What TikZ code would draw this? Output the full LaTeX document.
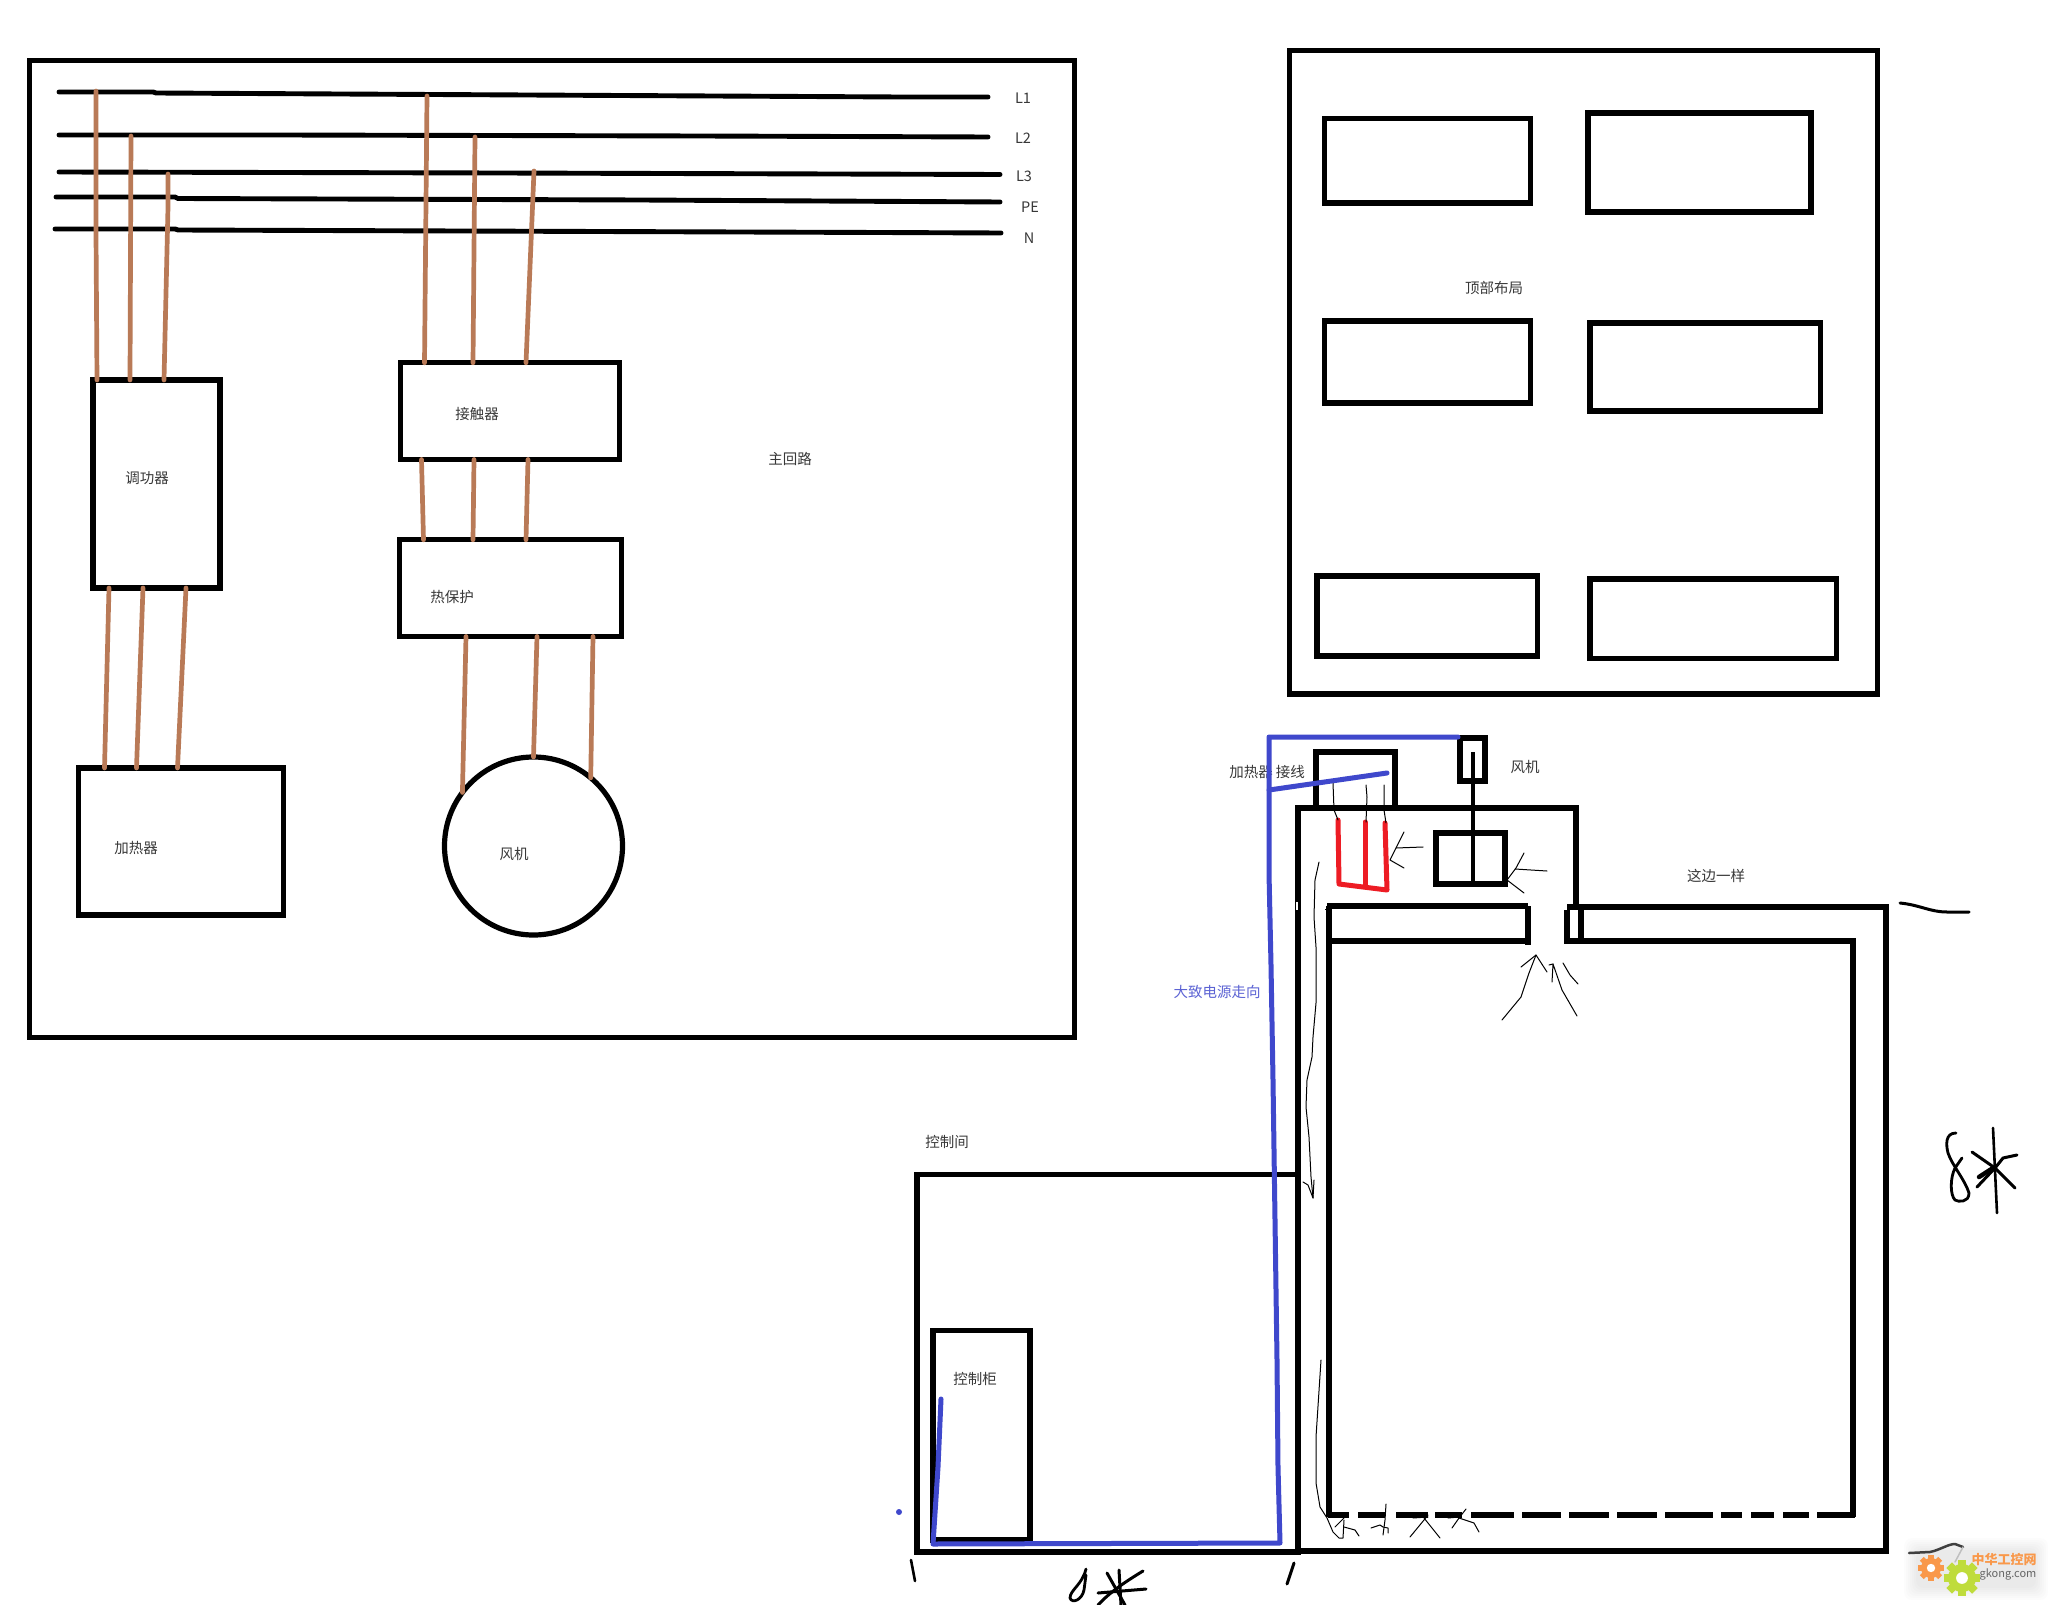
\documentclass[tikz,border=0pt]{standalone}
\usepackage{fontspec}
\setmainfont{Noto Sans CJK SC}
\usetikzlibrary{calc}
\definecolor{wirebrown}{HTML}{B97A57}
\definecolor{pblue}{HTML}{3F48CC}
\definecolor{pred}{HTML}{ED1C24}
\definecolor{gearo}{HTML}{F9984A}
\definecolor{gearg}{HTML}{BFDC3C}
\tikzset{
  x=1pt,y=-1pt,
  heavy/.style={line width=5.2pt,draw=black},
  bus/.style={line width=4.9pt,draw=black,line cap=round,line join=round},
  wire/.style={line width=4.7pt,draw=wirebrown,line cap=round,line join=round},
  bluew/.style={line width=5pt,draw=pblue,line cap=round,line join=round},
  redw/.style={line width=5pt,draw=pred,line cap=round,line join=round},
  thin pen/.style={line width=1pt,draw=black,line cap=round,line join=round},
  pen/.style={line width=4pt,draw=black,line cap=round,line join=round},
  lbl/.style={text=black!78,font=\fontsize{14.5}{16}\selectfont,inner sep=0pt},
  boxn/.style={heavy,inner sep=0pt,outer sep=0pt,rectangle},
}
\newcommand{\bx}[6][]{\node[boxn,#1,minimum width={(#5-#3)*1pt},minimum height={(#6-#4)*1pt}] (#2) at ({(#3+#5)/2},{(#4+#6)/2}) {};}
\newcommand{\gearat}[4]{%
  \foreach \a in {0,45,...,315}{\fill[#4,rotate around={\a:(#1,#2)}] (#1-#3*0.28,#2) rectangle (#1+#3*0.28,#2-#3*1.3);}
  \fill[#4] (#1,#2) circle[radius=#3];
  \fill[white] (#1,#2) circle[radius=#3*0.42];}
\begin{document}
\begin{tikzpicture}
\useasboundingbox (0,0) rectangle (2051,1605);
\fill[white] (0,0) rectangle (2051,1605);

% ---------- main circuit frame ----------
\bx{frameL}{29.5}{60.5}{1074.5}{1037.5}
\coordinate (L1a) at (59,92);  \coordinate (L1b) at (988,97);
\coordinate (L2a) at (59,135); \coordinate (L2b) at (988,137);
\coordinate (L3a) at (59,172); \coordinate (L3b) at (1000,174.5);
\coordinate (PEa) at (56,197); \coordinate (PEb) at (1000,202);
\coordinate (Na) at (55,229);  \coordinate (Nb) at (1001,233);
\draw[bus] (L1a) -- (153,92) -- (156,93) -- (340,94) -- (900,97) -- (L1b);
\draw[bus] (L2a) -- (280,135) -- (700,136) -- (L2b);
\draw[bus] (L3a) -- (500,173) -- (L3b);
\draw[bus] (PEa) -- (175,197) -- (178,198.5) -- (640,200) -- (PEb);
\draw[bus] (Na) -- (175,229) -- (178,230) -- (880,232.5) -- (Nb);

\bx{tiao}{93}{380}{220}{588}
\bx{jie}{400.5}{362.8}{619.5}{459.5}
\bx{re}{399.5}{539.8}{621.5}{636.5}
\bx{jia}{78.5}{768}{283.5}{915}
\node[circle,heavy,minimum size=178pt,inner sep=0pt,outer sep=0pt] (fan) at (533.5,846) {};

\coordinate (w1) at (96,91);  \coordinate (w2) at (131,136); \coordinate (w3) at (168,174);
\coordinate (w4) at (427,96); \coordinate (w5) at (475,137); \coordinate (w6) at (534,171);
\draw[wire] (w1) -- (96,233) -- ([xshift=4pt]tiao.north west);
\draw[wire] (w2) -- ([xshift=37pt]tiao.north west);
\draw[wire] (w3) -- (168,207) -- ([xshift=71pt]tiao.north west);
\draw[wire] (w4) -- ([xshift=24pt]jie.north west);
\draw[wire] (w5) -- ([xshift=72.5pt]jie.north west);
\draw[wire] (w6) -- ([xshift=125.5pt]jie.north west);
\draw[wire] ([xshift=21pt]jie.south west) -- ([xshift=24pt]re.north west);
\draw[wire] ([xshift=73.5pt]jie.south west) -- ([xshift=73.5pt]re.north west);
\draw[wire] ([xshift=127.5pt]jie.south west) -- ([xshift=126.5pt]re.north west);
\draw[wire] ([xshift=16pt]tiao.south west) -- ([xshift=26pt]jia.north west);
\draw[wire] ([xshift=50pt]tiao.south west) -- ([xshift=58pt]jia.north west);
\draw[wire] ([xshift=93pt]tiao.south west) -- ([xshift=99pt]jia.north west);
\draw[wire] ([xshift=66.5pt]re.south west) -- (fan.143);
\draw[wire] ([xshift=137.5pt]re.south west) -- (fan.north);
\draw[wire] ([xshift=193.5pt]re.south west) -- (fan.50);

\node[lbl] (tL1) at (1023,98) {L1};
\node[lbl] (tL2) at (1023,138) {L2};
\node[lbl] (tL3) at (1024,176) {L3};
\node[lbl] (tPE) at (1030,207) {PE};
\node[lbl] (tN) at (1029,238) {N};
\node[lbl] (ttiao) at (147,478) {调功器};
\node[lbl] (tjie) at (477,414) {接触器};
\node[lbl] (tre) at (452,597) {热保护};
\node[lbl] (tmain) at (790,459) {主回路};
\node[lbl] (tjia) at (136,848) {加热器};
\node[lbl] (tfan) at (514,854) {风机};

% ---------- top layout ----------
\bx{frameT}{1289.5}{50.3}{1877.5}{694}
\bx{t1}{1324.5}{118.4}{1530.5}{203}
\bx{t2}{1588}{113}{1811}{212}
\bx{t3}{1324.5}{321}{1530.5}{403}
\bx{t4}{1590}{323}{1820.5}{411}
\bx{t5}{1317}{576}{1537.5}{656}
\bx{t6}{1590}{579}{1836.5}{658.5}
\node[lbl] (ttop) at (1494,288) {顶部布局};

% ---------- control room ----------
\bx{ctrl}{917}{1174.5}{1298}{1552}
\bx{cab}{933}{1330.5}{1030}{1540}
\node[lbl] (troom) at (947,1142) {控制间};
\node[lbl] (tcab) at (975,1379) {控制柜};

% ---------- plant section ----------
\draw[heavy] (1298,1175) -- (1298,808) -- (1576,808) -- (1576,907);
\draw[heavy,line cap=butt] (1298,1551) -- (1886,1551) -- (1886,907) -- (1567,907);
\fill[white] (1296.2,902) rectangle (1298.2,910);
\draw[line width=6.5pt] (1327,906) -- (1528,906);
\draw[line width=1pt] (1325,909) -- (1330,909);
\draw[heavy] (1528,906) -- (1528,945);
\draw[heavy] (1329,906) -- (1329,1517);
\draw[line width=6.5pt] (1329,930) -- (1329,950);
\draw[heavy] (1327,941) -- (1528,941);
\draw[heavy] (1567,910) -- (1567,944);
\draw[heavy] (1581,905) -- (1581,941);
\draw[heavy] (1565,941) -- (1853,941) -- (1853,1517);
\foreach \a/\b in {1328/1349,1358/1385,1396/1428,1435/1462,1471/1514,1522/1561,1569/1609,1617/1657,1665/1713,1721/1742,1751/1774,1783/1809,1817/1855}
  \draw[line width=5.2pt] (\a,1515) -- (\b,1515);

% heater terminal box and fan
\bx{hbox}{1316}{752}{1395}{808}
\bx{fanout}{1460}{738}{1485}{781}
\bx{fanbox}{1436}{833}{1505}{884}
\draw[line width=4.5pt] (1473,752) -- (1473,884);

% heater
\draw[redw] (1338,820) -- (1339,884) -- (1387,890) -- (1385,823);
\draw[redw] (1365,822) -- (1365,886);
\draw[thin pen] (1333,783) -- (1334,810) -- (1338,820);
\draw[thin pen] (1366,785) -- (1367,797) -- (1366,822);
\draw[thin pen] (1384,785) -- (1384,810) -- (1386,823);

% air-flow pencil strokes
\draw[thin pen] (1404,832) -- (1396,848) -- (1390,860) -- (1404,868);
\draw[thin pen] (1396,848) -- (1423,847);
\draw[thin pen] (1524,853) -- (1516,868) -- (1507,880) -- (1524,893);
\draw[thin pen] (1515,869) -- (1547,871);
\draw[thin pen] (1521,967) -- (1536,955) -- (1547,972);
\draw[thin pen] (1536,955) -- (1529,973) -- (1521,997) -- (1502,1020);
\draw[thin pen] (1552,982) -- (1553,964) -- (1562,990) -- (1577,1016);
\draw[thin pen] (1549,965) -- (1553,964);
\draw[thin pen] (1563,963) -- (1570,975) -- (1578,984);
\draw[thin pen] (1319,862) -- (1315,880) -- (1314,917) -- (1316,947) -- (1316,1003) -- (1313,1037) -- (1312,1057) -- (1307,1080) -- (1306,1107) -- (1309,1137) -- (1311,1177) -- (1313,1198);
\draw[thin pen] (1303,1182) -- (1308,1185) -- (1313,1198) -- (1314,1180);
\draw[thin pen] (1321,1360) -- (1316,1437) -- (1316,1483) -- (1320,1507) -- (1327,1518) -- (1333,1532) -- (1339,1538) -- (1343,1538) -- (1344,1520);
\draw[thin pen] (1335,1527) -- (1344,1518);
\draw[thin pen] (1344,1527) -- (1355,1530) -- (1359,1536);
\draw[thin pen] (1386,1504) -- (1385,1520) -- (1383,1535);
\draw[thin pen] (1388,1533) -- (1388,1528) -- (1383,1527) -- (1380,1525) -- (1371,1528);
\draw[thin pen] (1428,1515) -- (1424,1520) -- (1410,1537);
\draw[thin pen] (1424,1518) -- (1440,1538);
\draw[thin pen] (1413,1518) -- (1428,1517);
\draw[thin pen] (1466,1509) -- (1459,1518) -- (1452,1528);
\draw[thin pen] (1459,1518) -- (1474,1523) -- (1479,1532);
\draw[thin pen] (1448,1518) -- (1459,1517);

% power route
\coordinate (pA) at (1387,773); \coordinate (pB) at (1269,790);
\coordinate (pC) at (1458,737); \coordinate (pD) at (941,1399);
\draw[bluew] (pA) -- (pB);
\node[lbl] (theat) at (1267,772) {加热器\hspace{3pt}接线};
\draw[bluew] (pC) -- (1269,737) -- (1269,873) -- (1271,965) -- (1273,1080) -- (1277,1360) -- (1278,1467) -- (1280,1543) -- (933,1544) -- (938,1467) -- (pD);
\fill[pblue] (899,1512) circle[radius=3];

\node[lbl] (tfan2) at (1525,767) {风机};
\node[lbl] (tsame) at (1716,876) {这边一样};
\node[lbl,text=pblue!85] (troute) at (1217,992) {大致电源走向};

% hand-written dimensions
\draw[pen,line width=3pt] (1900,903) .. controls (1920,905) and (1930,912) .. (1947,912) -- (1969,912);
\draw[pen,line width=2.6pt] (911,1560) -- (915,1581);
\draw[pen,line width=3pt] (1294,1563) -- (1287,1584);
\draw[pen,line width=2.8pt] (1086,1569) .. controls (1082,1585) and (1070,1590) .. (1070,1598) .. controls (1072,1604) and (1082,1600) .. (1084,1590) -- (1086,1575);
\draw[pen,line width=3pt] (1119,1570) -- (1121,1605);
\draw[pen,line width=3pt] (1107,1573) -- (1125,1605);
\draw[pen,line width=3pt] (1143,1571) .. controls (1125,1582) and (1110,1592) .. (1098,1605);
\draw[pen,line width=3pt] (1098,1593) -- (1146,1589);
\draw[pen,line width=2.8pt] (1956,1133) .. controls (1945,1133) and (1946,1145) .. (1948,1153) .. controls (1952,1165) and (1965,1180) .. (1969,1193) .. controls (1969,1203) and (1958,1202) .. (1955,1200) .. controls (1950,1195) and (1950,1178) .. (1955,1168) -- (1962,1158);
\draw[pen,line width=2.6pt] (1993,1128) -- (1997,1213);
\draw[pen,line width=3pt] (1972,1152) -- (1995,1168) -- (2015,1188);
\draw[pen,line width=3pt] (2017,1155) -- (2003,1158) -- (1995,1168) -- (1977,1187);
\draw[pen,line width=4.5pt] (1979,1177) -- (1993,1168);

% watermark
\foreach \i in {0,2,...,12}
  \fill[black,opacity=0.012,rounded corners=8pt] (1904+\i,1538+\i) rectangle (2048-\i,1600-\i);
\gearat{1931}{1568}{10}{gearo}
\gearat{1962}{1578}{14}{gearg}
\draw[line width=2.5pt,black!75,line cap=round,line join=round] (1909,1553) -- (1930,1552) .. controls (1940,1550) and (1948,1544) .. (1955,1544) -- (1963,1547);
\draw[line width=1.5pt,black!25,line cap=round] (1963,1547) -- (1955,1562);
\node[inner sep=0pt,text=gearo,font=\fontsize{13}{14}\bfseries\selectfont] (wm1) at (2004,1560) {中华工控网};
\node[inner sep=0pt,text=black!60,font=\fontsize{11}{12}\selectfont] (wm2) at (2008,1574) {gkong.com};
\end{tikzpicture}
\end{document}
